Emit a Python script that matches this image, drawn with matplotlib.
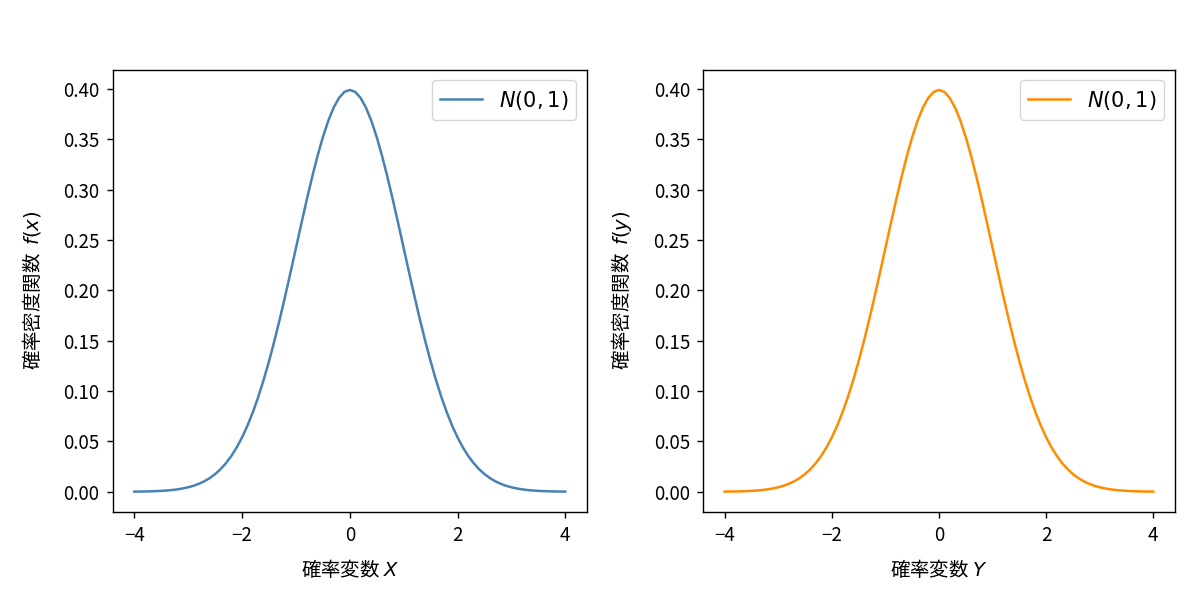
import matplotlib
matplotlib.use("Agg")
import matplotlib.pyplot as plt

plt.rcParams['font.family'] = ['Noto Sans CJK JP', 'DejaVu Sans']
plt.rcParams['axes.unicode_minus'] = True
plt.rcParams['axes.linewidth'] = 1.0
plt.rcParams['xtick.major.size'] = 4.5
plt.rcParams['ytick.major.size'] = 4.5
plt.rcParams['xtick.major.width'] = 1.0
plt.rcParams['ytick.major.width'] = 1.0

x_vals = [-4.0, -3.9, -3.8, -3.7, -3.6, -3.5, -3.4, -3.3, -3.2, -3.1,
          -3.0, -2.9, -2.8, -2.7, -2.6, -2.5, -2.4, -2.3, -2.2, -2.1,
          -2.0, -1.9, -1.8, -1.7, -1.6, -1.5, -1.4, -1.3, -1.2, -1.1,
          -1.0, -0.9, -0.8, -0.7, -0.6, -0.5, -0.4, -0.3, -0.2, -0.1,
          0.0, 0.1, 0.2, 0.3, 0.4, 0.5, 0.6, 0.7, 0.8, 0.9,
          1.0, 1.1, 1.2, 1.3, 1.4, 1.5, 1.6, 1.7, 1.8, 1.9,
          2.0, 2.1, 2.2, 2.3, 2.4, 2.5, 2.6, 2.7, 2.8, 2.9,
          3.0, 3.1, 3.2, 3.3, 3.4, 3.5, 3.6, 3.7, 3.8, 3.9, 4.0]

density_x = [0.00013, 0.00020, 0.00029, 0.00042, 0.00061, 0.00087, 0.00123, 0.00172, 0.00238, 0.00327,
             0.00443, 0.00595, 0.00792, 0.01042, 0.01358, 0.01753, 0.02239, 0.02833, 0.03547, 0.04398,
             0.05399, 0.06562, 0.07895, 0.09405, 0.11092, 0.12952, 0.14973, 0.17137, 0.19419, 0.21785,
             0.24197, 0.26609, 0.28969, 0.31225, 0.33322, 0.35207, 0.36827, 0.38139, 0.39104, 0.39695,
             0.39894, 0.39695, 0.39104, 0.38139, 0.36827, 0.35207, 0.33322, 0.31225, 0.28969, 0.26609,
             0.24197, 0.21785, 0.19419, 0.17137, 0.14973, 0.12952, 0.11092, 0.09405, 0.07895, 0.06562,
             0.05399, 0.04398, 0.03547, 0.02833, 0.02239, 0.01753, 0.01358, 0.01042, 0.00792, 0.00595,
             0.00443, 0.00327, 0.00238, 0.00172, 0.00123, 0.00087, 0.00061, 0.00042, 0.00029, 0.00020, 0.00013]

density_y = list(density_x)

x_ticks = [-4, -2, 0, 2, 4]
y_ticks = [0.0, 0.05, 0.10, 0.15, 0.20, 0.25, 0.30, 0.35, 0.40]
y_ticklabels = ['0.00', '0.05', '0.10', '0.15', '0.20', '0.25', '0.30', '0.35', '0.40']

panels = [
    (density_x, '#4682b4', '確率変数 $X$', '確率密度関数  $f(x)$'),
    (density_y, '#ff8c00', '確率変数 $Y$', '確率密度関数  $f(y)$'),
]

fig = plt.figure(figsize=(12, 6.02), dpi=100)
axes = [fig.add_axes([0.094, 0.150, 0.395, 0.734]),
        fig.add_axes([0.586, 0.150, 0.393, 0.734])]

for ax, (dens, col, xl, yl) in zip(axes, panels):
    ax.plot(x_vals, dens, color=col, linewidth=1.8, label='$N(0,1)$')
    ax.set_xlabel(xl, fontsize=14, labelpad=9)
    ax.set_ylabel(yl, fontsize=14, labelpad=14)
    ax.set_xticks(x_ticks)
    ax.set_yticks(y_ticks)
    ax.set_yticklabels(y_ticklabels)
    ax.tick_params(labelsize=13.5, pad=5)
    ax.legend(loc='upper right', fontsize=15)

fig.savefig('out.png', dpi=100)
